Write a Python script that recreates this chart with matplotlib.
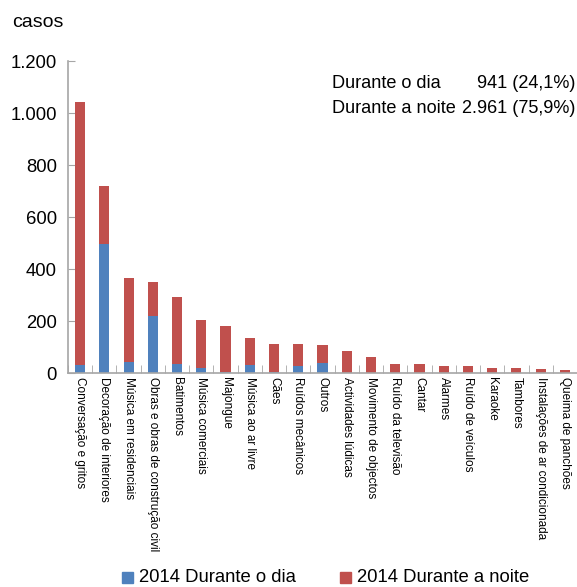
import matplotlib
matplotlib.use("Agg")
import matplotlib.pyplot as plt
import numpy as np
from matplotlib.patches import Rectangle

plt.rcParams['font.family'] = ['Liberation Sans', 'DejaVu Sans']

categories = [
    "Conversação e gritos", "Decoração de interiores", "Música em residenciais",
    "Obras e obras de construção civil", "Batimentos", "Música comerciais",
    "Majongue", "Música ao ar livre", "Cães", "Ruídos mecânicos", "Outros",
    "Actividades lúdicas", "Movimento de objectos", "Ruído da televisão",
    "Cantar", "Alarmes", "Ruído de veículos", "Karaoke", "Tambores",
    "Instalações de ar condicionada", "Queima de panchões",
]
day = [30, 495, 42, 218, 35, 20, 5, 32, 5, 28, 40,
       0, 0, 0, 0, 0, 0, 0, 0, 0, 0]
total = [1042, 718, 366, 350, 293, 204, 181, 133, 113, 112, 106,
         83, 63, 34, 33, 27, 26, 19, 18, 16, 12]
night = [t - d for t, d in zip(total, day)]

series_labels = ["2014 Durante o dia", "2014 Durante a noite"]
yticks = [0, 200, 400, 600, 800, 1000, 1200]
ytick_labels = ["0", "200", "400", "600", "800", "1.000", "1.200"]
summary_labels = ["Durante o dia", "Durante a noite"]
summary_values = ["941 (24,1%)", "2.961 (75,9%)"]

blue = "#4F81BD"
red = "#C0504D"
axis_gray = "#a6a6a6"

W, H = 577, 587
fig = plt.figure(figsize=(W / 100, H / 100), dpi=100)
ax = fig.add_axes([68 / W, 1 - 373 / H, (W - 68) / W, (373 - 61) / H])

x = np.arange(len(categories))
ax.bar(x, day, width=0.42, color=blue, zorder=2)
ax.bar(x, night, bottom=day, width=0.42, color=red, zorder=2)

ax.set_xlim(-0.5, len(categories) - 0.5)
ax.set_ylim(0, 1200)
ax.set_yticks(yticks)
ax.set_yticklabels(ytick_labels, fontsize=13.3)
ax.tick_params(axis='y', direction='in', length=5, color=axis_gray, pad=8)

ax.set_xticks(x)
ax.set_xticklabels(categories, rotation=-90, fontsize=8.5, va='top', ha='center')
ax.tick_params(axis='x', length=0, pad=3)
# category separators on the x axis
ax.set_xticks(np.arange(len(categories) + 1) - 0.5, minor=True)
ax.tick_params(axis='x', which='minor', direction='in', length=6, color=axis_gray)

for s in ["top", "right"]:
    ax.spines[s].set_visible(False)
for s in ["left", "bottom"]:
    ax.spines[s].set_color(axis_gray)
    ax.spines[s].set_linewidth(1.2)

fig.text(12 / W, 1 - 27 / H, "casos", fontsize=14, va='baseline', ha='left')

for i, (lab, val) in enumerate(zip(summary_labels, summary_values)):
    yy = 1 - (88 + i * 25) / H
    fig.text(332 / W, yy, lab, fontsize=13.1, va='baseline', ha='left')
    fig.text(575 / W, yy, val, fontsize=13.1, va='baseline', ha='right')

# legend
for (lab, col, x0) in [(series_labels[0], blue, 122), (series_labels[1], red, 340)]:
    fig.patches.append(Rectangle((x0 / W, 1 - 583 / H), 11 / W, 11 / H,
                                 transform=fig.transFigure, color=col))
    fig.text((x0 + 17) / W, 1 - 582 / H, lab, fontsize=13.3, va='baseline', ha='left')

fig.savefig("out.png", dpi=100, facecolor="white")
